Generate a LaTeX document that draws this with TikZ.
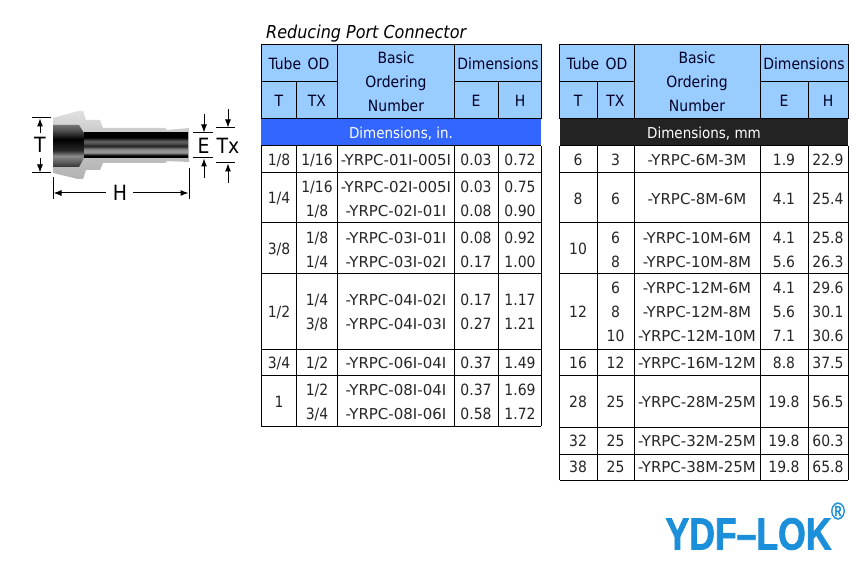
\documentclass[tikz,border=0pt]{standalone}
\usepackage{fontspec}
\setmainfont{DejaVu Sans Condensed}
\newfontfamily\numfont{DejaVu Sans}
\newfontfamily\logofont[FakeStretch=0.79,FakeBold=1.6]{Liberation Sans}
\usetikzlibrary{shapes,arrows.meta}
\definecolor{headblue}{HTML}{99CCFF}
\definecolor{bandblue}{HTML}{3366FF}
\definecolor{banddark}{HTML}{232323}
\definecolor{celltext}{HTML}{262626}
\definecolor{logoblue}{HTML}{1B8FD9}
\pgfdeclareverticalshading{tubeshade}{100bp}{rgb(0bp)=(0,0,0); rgb(25bp)=(0,0,0); rgb(30bp)=(0,0,0); rgb(36bp)=(.6,.6,.6); rgb(42bp)=(.55,.55,.55); rgb(49bp)=(.15,.15,.15); rgb(58bp)=(.4,.4,.4); rgb(66bp)=(0,0,0); rgb(75bp)=(0,0,0); rgb(100bp)=(0,0,0)}
\pgfdeclareverticalshading{boreshade}{100bp}{rgb(0bp)=(.2,.2,.2); rgb(25bp)=(.2,.2,.2); rgb(38bp)=(.55,.55,.55); rgb(45bp)=(.15,.15,.15); rgb(58bp)=(0,0,0); rgb(68bp)=(.3,.3,.3); rgb(75bp)=(.45,.45,.45); rgb(100bp)=(.45,.45,.45)}
\pgfdeclareverticalshading{bodyshade}{100bp}{rgb(0bp)=(.7,.7,.7); rgb(25bp)=(.7,.7,.7); rgb(60bp)=(.8,.8,.8); rgb(75bp)=(.88,.88,.88); rgb(100bp)=(.88,.88,.88)}

\begin{document}
\begin{tikzpicture}[x=1pt, y=-1pt]
        \tikzstyle{cell} = [inner sep=0pt, text height=11pt, text depth=0pt, text=celltext, font=\fontsize{15.5}{15.5}\selectfont]
        \tikzstyle{numcell} = [cell, font=\numfont\fontsize{15}{15}\selectfont]
        \tikzstyle{head} = [cell, text=black!85!blue]
        \tikzstyle{band} = [cell, text=white, font=\fontsize{15}{15}\selectfont]
        \tikzstyle{dimlabel} = [inner sep=0pt, font=\fontsize{21}{21}\selectfont]
        \tikzstyle{grid} = [draw, line width=1pt]
        \tikzstyle{line} = [draw, line width=1pt, -{Latex[length=8pt,width=6pt]}]
        \tikzstyle{ext} = [draw, line width=1pt]

        \useasboundingbox (0,0) rectangle (867,577);
        \fill [white] (0,0) rectangle (867,577);

        % connector body
        \shade [shading=bodyshade] (53,118) -- (78,111) -- (83,111) -- (86,120) -- (100,120) -- (103,128) -- (165,128) -- (167,130) -- (189,128) -- (189,162) -- (167,161) -- (165,163) -- (103,163) -- (100,170) -- (86,170) -- (83,179) -- (78,179) -- (53,173) -- cycle;
        \shade [shading=boreshade] (53,125) -- (79,125) -- (84,133) -- (84,158) -- (79,167) -- (53,167) -- cycle;
        \shade [shading=tubeshade] (84,133) rectangle (188,158);

        % dimension lines
        \node [dimlabel] (dimT) at (40,145) {T};
        \node [dimlabel] (dimE) at (203.5,146) {E};
        \node [dimlabel] (dimTx) at (228,146) {Tx};
        \node [dimlabel] (dimH) at (120,193) {H};
        \path [ext] (32,118) -- (51,118);
        \path [ext] (32,173) -- (51,173);
        \path [ext] (193,133) -- (213,133);
        \path [ext] (193,158) -- (213,158);
        \path [ext] (216,128) -- (235,128);
        \path [ext] (216,163) -- (235,163);
        \path [ext] (53,177) -- (53,199);
        \path [ext] (189,168) -- (189,199);
        \path [line] (40,133) -- (40,118.5);
        \path [line] (40,158) -- (40,172.5);
        \path [line] (204,114) -- (204,132.5);
        \path [line] (204,178) -- (204,158.5);
        \path [line] (228,109) -- (228,127.5);
        \path [line] (228,183) -- (228,163.5);
        \path [line] (106,193) -- (53.5,193);
        \path [line] (133,193) -- (188.5,193);

        \node [anchor=west, inner sep=0pt, font=\fontsize{17.8}{17.8}\selectfont\itshape] (title) at (266,33.5) {Reducing Port Connector};

        % inch table
        \fill [headblue] (261,45) rectangle (541,119);
        \fill [bandblue] (261,119) rectangle (541,146);
        \path [grid] (261,45) rectangle (541,119);
        \path [grid] (261,82) -- (337.5,82);
        \path [grid] (454,82) -- (541,82);
        \path [grid] (296.5,82) -- (296.5,119);
        \path [grid] (498,82) -- (498,119);
        \path [grid] (337.5,45) -- (337.5,119);
        \path [grid] (454,45) -- (454,119);
        \foreach \ypos in {146,173,223,274,349,375,426}
            \path [grid] (261,\ypos) -- (541,\ypos);
        \foreach \xpos in {261,296.5,337.5,454,498,541}
            \path [grid] (\xpos,146) -- (\xpos,426);

        \node [head] (inTube) at (299,64) {Tube\hspace{2pt} OD};
        \node [head] (inBasic) at (396,58) {Basic};
        \node [head] (inOrdering) at (396,82) {Ordering};
        \node [head] (inNumber) at (396,106) {Number};
        \node [head] (inDim) at (498,64) {Dimensions};
        \node [head] (inT) at (279,101) {T};
        \node [head] (inTX) at (317,101) {TX};
        \node [head] (inE) at (476,101) {E};
        \node [head] (inH) at (520,101) {H};
        \node [band] (inBand) at (401,133) {Dimensions, in.};

        \foreach \ypos/\tube [count=\i] in {160/1\slash 8,198/1\slash 4,249/3\slash 8,312/1\slash 2,363/3\slash 4,402/1}
            \node [cell] (inTube\i) at (279,\ypos) {\tube};
        \foreach \ypos/\tx/\num/\dime/\dimh [count=\i] in {
            160/1\slash 16/01I-005I/0.03/0.72,
            187/1\slash 16/02I-005I/0.03/0.75,
            211/1\slash 8/02I-01I/0.08/0.90,
            238/1\slash 8/03I-01I/0.08/0.92,
            262/1\slash 4/03I-02I/0.17/1.00,
            300/1\slash 4/04I-02I/0.17/1.17,
            324/3\slash 8/04I-03I/0.27/1.21,
            363/1\slash 2/06I-04I/0.37/1.49,
            390/1\slash 2/08I-04I/0.37/1.69,
            414/3\slash 4/08I-06I/0.58/1.72} {
            \node [cell] (inTx\i) at (317,\ypos) {\tx};
            \node [numcell] (inNum\i) at (396,\ypos) {-YRPC-\num};
            \node [cell] (inE\i) at (476,\ypos) {\dime};
            \node [cell] (inH\i) at (520,\ypos) {\dimh};
        }

        % mm table
        \fill [headblue] (559.5,45) rectangle (848,119);
        \fill [banddark] (559.5,119) rectangle (848,146);
        \path [grid] (559.5,45) rectangle (848,119);
        \path [grid] (559.5,82) -- (634,82);
        \path [grid] (760,82) -- (848,82);
        \path [grid] (597,82) -- (597,119);
        \path [grid] (808,82) -- (808,119);
        \path [grid] (634,45) -- (634,119);
        \path [grid] (760,45) -- (760,119);
        \foreach \ypos in {146,173,223,274,349,375,427,454,480}
            \path [grid] (559.5,\ypos) -- (848,\ypos);
        \foreach \xpos in {559.5,597,634,760,808,848}
            \path [grid] (\xpos,146) -- (\xpos,480);

        \node [head] (mmTube) at (597,64) {Tube\hspace{2pt} OD};
        \node [head] (mmBasic) at (697,58) {Basic};
        \node [head] (mmOrdering) at (697,82) {Ordering};
        \node [head] (mmNumber) at (697,106) {Number};
        \node [head] (mmDim) at (804,64) {Dimensions};
        \node [head] (mmT) at (578,101) {T};
        \node [head] (mmTX) at (615.5,101) {TX};
        \node [head] (mmE) at (784,101) {E};
        \node [head] (mmH) at (828,101) {H};
        \node [band] (mmBand) at (704,133) {Dimensions, mm};

        \foreach \ypos/\tube [count=\i] in {160/6,199/8,249/10,312/12,363/16,402/28,441/32,467/38}
            \node [cell] (mmTube\i) at (578,\ypos) {\tube};
        \foreach \ypos/\tx/\num/\dime/\dimh [count=\i] in {
            160/3/6M-3M/1.9/22.9,
            199/6/8M-6M/4.1/25.4,
            238/6/10M-6M/4.1/25.8,
            262/8/10M-8M/5.6/26.3,
            288/6/12M-6M/4.1/29.6,
            312/8/12M-8M/5.6/30.1,
            336/10/12M-10M/7.1/30.6,
            363/12/16M-12M/8.8/37.5,
            402/25/28M-25M/19.8/56.5,
            441/25/32M-25M/19.8/60.3,
            467/25/38M-25M/19.8/65.8} {
            \node [cell] (mmTx\i) at (615.5,\ypos) {\tx};
            \node [numcell] (mmNum\i) at (697,\ypos) {-YRPC-\num};
            \node [cell] (mmE\i) at (784,\ypos) {\dime};
            \node [cell] (mmH\i) at (828,\ypos) {\dimh};
        }

        % logo
        \node [inner sep=0pt, text=logoblue, font=\logofont\bfseries\fontsize{45}{45}\selectfont] (logo) at (748.5,534) {YDF–LOK};
        \node [inner sep=0pt, text=logoblue, font=\logofont\fontsize{24}{24}\selectfont] (logoR) at (838,511) {®};

    \end{tikzpicture}
\end{document}
